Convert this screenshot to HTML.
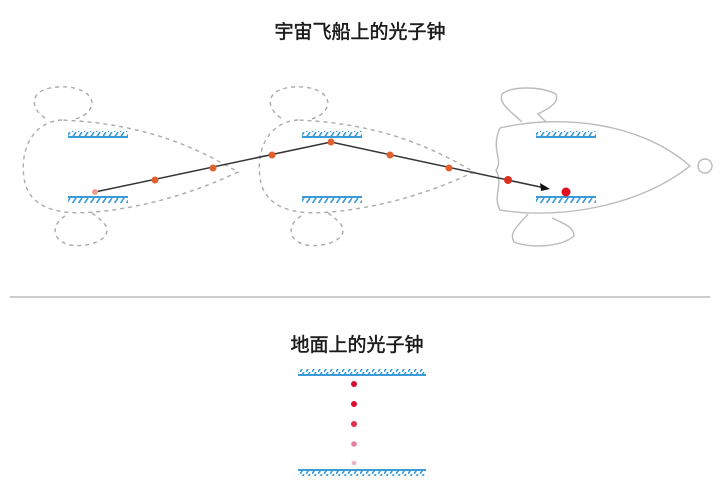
<!DOCTYPE html>
<html><head><meta charset="utf-8"><style>
html,body{margin:0;padding:0;background:#fff;}
svg{display:block;}
text{font-family:"Liberation Sans","Noto Sans CJK SC",sans-serif;fill:#1a1a1a;stroke:#1a1a1a;stroke-width:0.5;}
</style></head><body>
<svg width="720" height="485" viewBox="0 0 720 485" xmlns="http://www.w3.org/2000/svg">
<defs>
<pattern id="hatchT" width="6" height="6" patternUnits="userSpaceOnUse"><path d="M0,6 L4,0" stroke="#3a9bd8" stroke-width="1.6"/></pattern>
<g id="ship">
<path d="M500,128 C560,114 640,122 690,166 C640,206 560,220 500,210 C492,195 504,186 496,170 C504,160 490,150 500,128 Z"/>
<path d="M522,122 C512,112 498,104 502,94 C512,86 540,86 556,94 C560,104 545,110 538,114 L546,122"/>
<path d="M528,214 C520,224 508,232 514,242 C528,248 560,248 574,236 C574,226 560,222 552,218"/>
<circle cx="705" cy="166" r="7"/>
</g>
<g id="dship">
<path d="M62,120 C32,122 20,150 24,178 C28,205 52,216 95,212 C150,207 200,190 238,172 C200,150 150,124 62,120 Z"/>
<path d="M45,118 C30,108 30,92 50,88 C70,84 92,90 92,104 C90,114 80,118 72,120"/>
<path d="M65,216 C52,224 50,240 70,245 C92,248 112,238 106,226 C102,220 96,216 92,213"/>
</g>
</defs>
<text x="360" y="38" font-size="19" text-anchor="middle">宇宙飞船上的光子钟</text>
<g fill="none" stroke="#aaa" stroke-width="1.4" stroke-dasharray="4,4">
<use href="#dship"/>
<use href="#dship" transform="translate(236,0)"/>
</g>
<g fill="none" stroke="#bbb" stroke-width="1.4"><use href="#ship"/></g>
<g>
<rect x="68" y="131" width="60" height="5" fill="url(#hatchT)"/><rect x="68" y="136" width="60" height="2" fill="#3a9bd8"/>
<rect x="68" y="196" width="60" height="2" fill="#3a9bd8"/><rect x="68" y="198" width="60" height="5" fill="url(#hatchT)"/>
<rect x="302" y="131" width="60" height="5" fill="url(#hatchT)"/><rect x="302" y="136" width="60" height="2" fill="#3a9bd8"/>
<rect x="302" y="196" width="60" height="2" fill="#3a9bd8"/><rect x="302" y="198" width="60" height="5" fill="url(#hatchT)"/>
<rect x="536" y="131" width="60" height="5" fill="url(#hatchT)"/><rect x="536" y="136" width="60" height="2" fill="#3a9bd8"/>
<rect x="536" y="196" width="60" height="2" fill="#3a9bd8"/><rect x="536" y="198" width="60" height="5" fill="url(#hatchT)"/>
</g>
<polyline points="95,192 331,142 545,188" fill="none" stroke="#333" stroke-width="1.5"/>
<path d="M550,189 L540,183 L541,191 Z" fill="#111"/>
<g fill="#e06030">
<circle cx="95" cy="192" r="3" fill="#f0a090"/>
<circle cx="155" cy="180" r="3.5"/><circle cx="213" cy="168" r="3.5"/><circle cx="272" cy="155" r="3.5"/>
<circle cx="331" cy="142" r="3.5"/><circle cx="390" cy="155" r="3.5"/><circle cx="449" cy="168" r="3.5"/>
<circle cx="508" cy="180" r="4" fill="#d83020"/>
</g>
<circle cx="566" cy="192" r="4.5" fill="#e01020"/>
<line x1="10" y1="297" x2="710" y2="297" stroke="#999" stroke-width="1"/>
<text x="357" y="351" font-size="19" text-anchor="middle">地面上的光子钟</text>
<rect x="298" y="369" width="128" height="5" fill="url(#hatchT)"/><rect x="298" y="374" width="128" height="2" fill="#3a9bd8"/>
<rect x="298" y="469" width="128" height="2" fill="#3a9bd8"/><rect x="298" y="471" width="128" height="5" fill="url(#hatchT)"/>
<circle cx="354" cy="384" r="3" fill="#d81030"/>
<circle cx="354" cy="404" r="3" fill="#d81030"/>
<circle cx="354" cy="424" r="3" fill="#e03050"/>
<circle cx="354" cy="444" r="2.8" fill="#e880a0"/>
<circle cx="354" cy="463" r="2.3" fill="#f0b0c0"/>
</svg>
</body></html>
